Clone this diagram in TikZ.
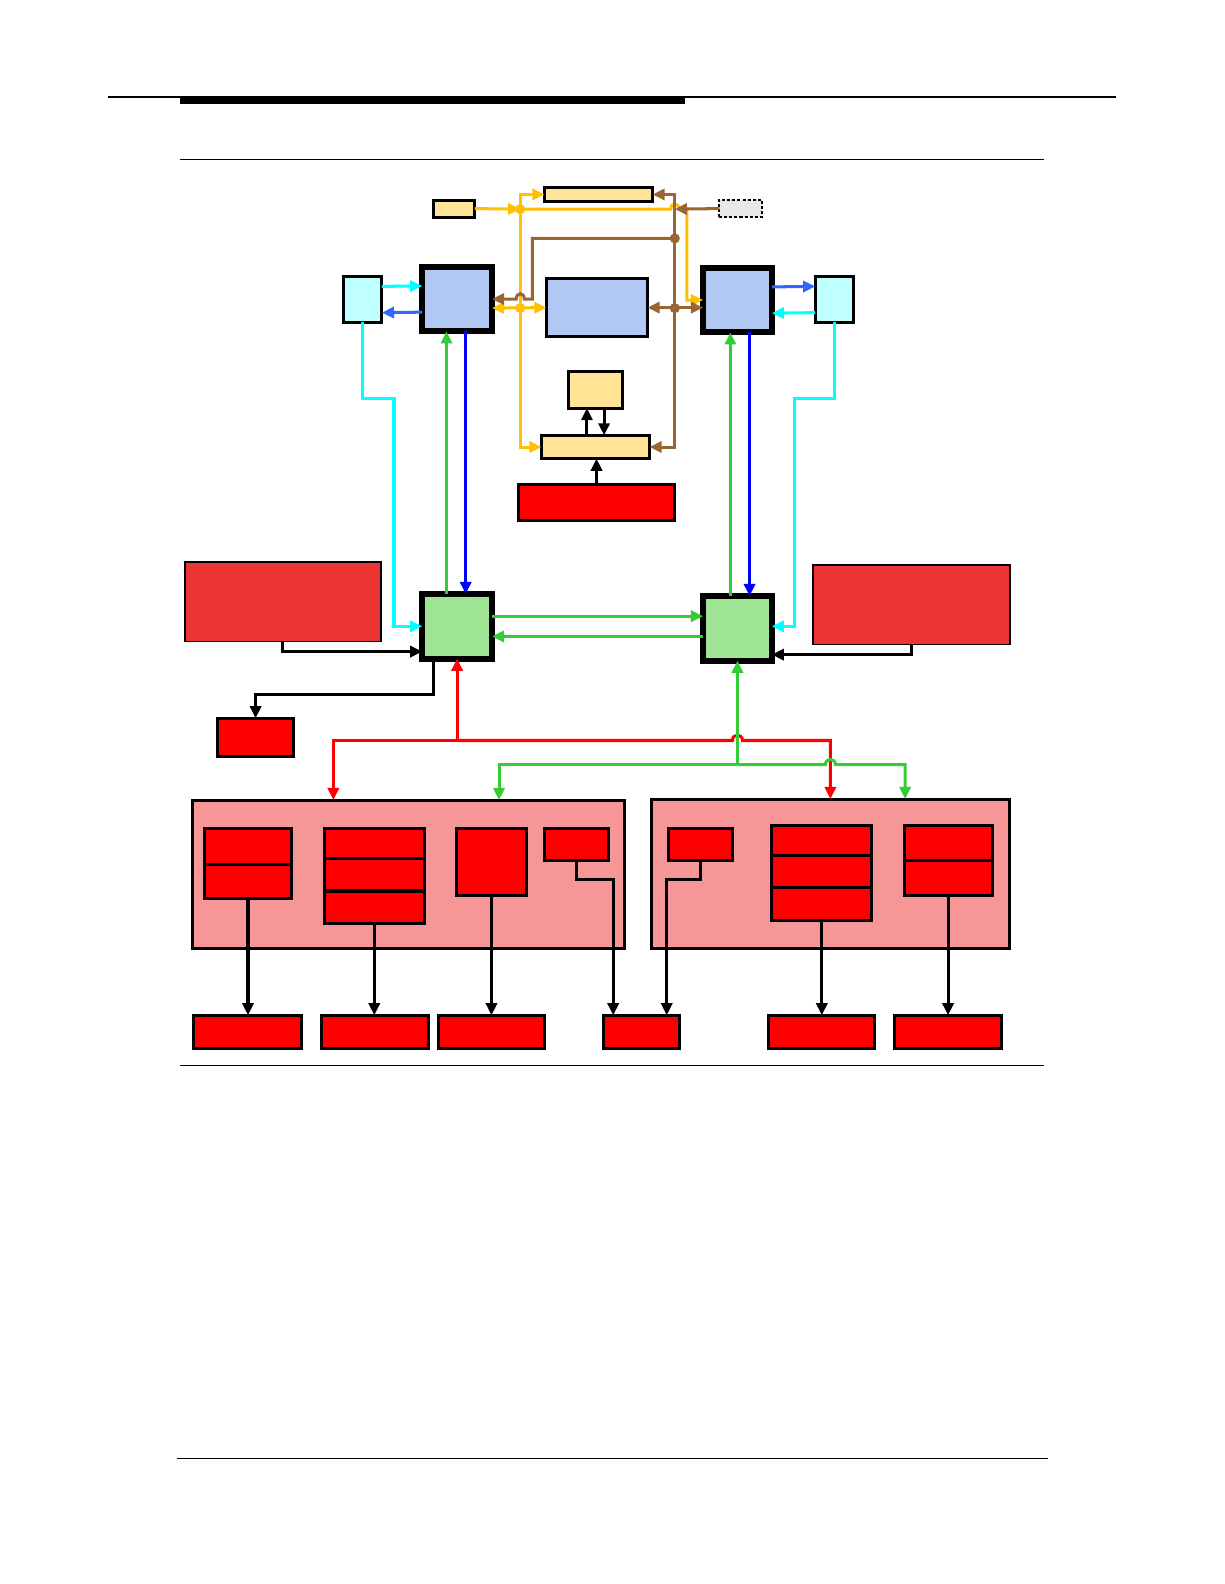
\documentclass[tikz,border=0pt]{standalone}
\usepackage{tikz}
\usepackage{xcolor}
\usetikzlibrary{arrows.meta}

\definecolor{busyel}{RGB}{255,192,0}
\definecolor{busbrn}{RGB}{153,102,51}
\definecolor{buscyn}{RGB}{0,255,255}
\definecolor{busroy}{RGB}{51,102,255}
\definecolor{busblu}{RGB}{0,0,255}
\definecolor{busgrn}{RGB}{51,204,51}
\definecolor{busred}{RGB}{255,0,0}
\definecolor{fillblu}{RGB}{176,200,242}
\definecolor{fillcyn}{RGB}{192,255,255}
\definecolor{fillgrn}{RGB}{160,228,150}
\definecolor{fillyel}{RGB}{255,228,150}
\definecolor{fillhot}{RGB}{236,52,52}
\definecolor{fillpnk}{RGB}{246,150,150}
\definecolor{fillgry}{RGB}{232,232,232}

\tikzset{
  box/.style={draw, line width=3pt, inner sep=0pt, outer sep=0pt},
  hub/.style={box, line width=6pt},
  redbox/.style={box, fill=red},
  wire/.style={line width=3pt},
}

\begin{document}
\begin{tikzpicture}[x=1pt, y=-1pt, >={Triangle[length=12pt,width=11pt]}]
  \useasboundingbox (0,0) rectangle (1212,1568);
  % page rules
  \draw[line width=1.5pt] (107,96) -- (1105,96);
  \fill (178,96) rectangle (678,103);
  \draw[line width=1.2pt] (178,158) -- (1033,158);
  \draw[line width=1.2pt] (178,1055) -- (1033,1055);
  \draw[line width=1.2pt] (175,1444) -- (1037,1444);

  % top boxes
  \node[box, fill=fillyel, minimum width=41, minimum height=17] (yin) at (449.5,206.5) {};
  \node[box, fill=fillyel, minimum width=107, minimum height=13] (ybar) at (592.5,192.5) {};
  \node[box, fill=fillgry, dotted, line width=1.8pt, minimum width=42, minimum height=17] (gry) at (733,206.5) {};
  \node[hub, fill=fillblu, minimum width=69, minimum height=64] (bl) at (452.5,296) {};
  \node[box, fill=fillblu, minimum width=100, minimum height=57] (bc) at (591,304.5) {};
  \node[hub, fill=fillblu, minimum width=68, minimum height=64] (br) at (730,297) {};
  \node[box, fill=fillcyn, minimum width=38, minimum height=45] (cl) at (359,296.5) {};
  \node[box, fill=fillcyn, minimum width=38, minimum height=45] (cr) at (826,296.5) {};
  \node[box, fill=fillyel, minimum width=53, minimum height=36] (ybox) at (589.5,386) {};
  \node[box, fill=fillyel, minimum width=107, minimum height=23] (ybar2) at (589.5,442.5) {};
  \node[redbox, minimum width=155, minimum height=35] (rbar) at (590.5,497.5) {};

  % middle boxes
  \node[box, line width=1.8pt, fill=fillhot, minimum width=194, minimum height=79] (hl) at (280,595.5) {};
  \node[box, line width=1.8pt, fill=fillhot, minimum width=195, minimum height=79] (hr) at (902.5,598.5) {};
  \node[hub, fill=fillgrn, minimum width=69, minimum height=64] (gl) at (452.5,620) {};
  \node[hub, fill=fillgrn, minimum width=68, minimum height=64] (gr) at (730,622) {};
  \node[redbox, minimum width=76, minimum height=38] (rsm) at (253,730) {};

  % lower groups
  \node[box, fill=fillpnk, minimum width=427, minimum height=147] (pl) at (404.5,865.5) {};
  \node[box, fill=fillpnk, minimum width=354, minimum height=148] (pr) at (822,865) {};
  \node[redbox, minimum width=87, minimum height=36] (la1) at (245.5,838) {};
  \node[redbox, minimum width=87, minimum height=33] (la2) at (245.5,872.5) {};
  \node[redbox, minimum width=99, minimum height=30] (lb1) at (370.5,835) {};
  \node[redbox, minimum width=99, minimum height=32] (lb2) at (370.5,866) {};
  \node[redbox, minimum width=99, minimum height=32] (lb3) at (370.5,898) {};
  \node[redbox, minimum width=69, minimum height=66] (lc) at (486.5,853) {};
  \node[redbox, minimum width=63, minimum height=32] (ld) at (570.5,836) {};
  \node[redbox, minimum width=63, minimum height=32] (ra) at (693.5,836) {};
  \node[redbox, minimum width=99, minimum height=30] (rb1) at (813.5,832) {};
  \node[redbox, minimum width=99, minimum height=32] (rb2) at (813.5,863) {};
  \node[redbox, minimum width=99, minimum height=32] (rb3) at (813.5,895) {};
  \node[redbox, minimum width=87, minimum height=35] (rc1) at (938.5,834.5) {};
  \node[redbox, minimum width=87, minimum height=34] (rc2) at (938.5,869) {};

  % outputs
  \node[redbox, minimum width=106, minimum height=33] (out1) at (245,1021.5) {};
  \node[redbox, minimum width=106, minimum height=33] (out2) at (371,1021.5) {};
  \node[redbox, minimum width=105, minimum height=33] (out3) at (486.5,1021.5) {};
  \node[redbox, minimum width=76, minimum height=33] (out4) at (635,1021.5) {};
  \node[redbox, minimum width=105, minimum height=33] (out5) at (813.5,1021.5) {};
  \node[redbox, minimum width=106, minimum height=33] (out6) at (938,1021.5) {};

  % yellow bus
  \coordinate (yj1) at (515,207);
  \coordinate (yj2) at (515,305);
  \draw[wire, busyel, ->] (yin.east) -- (yj1);
  \draw[wire, busyel, ->] (yj1) |- (ybar.west);
  \draw[wire, busyel, ->] (yj1) -- (664,207) .. controls (664,200) and (672,200) .. (672,207)
    -- (680,207) |- (br.west);
  \draw[wire, busyel, ->] (yj1) |- (ybar2.west);
  \draw[wire, busyel, <->] (bl.east |- yj2) -- (bc.west);
  \fill[busyel] (yj1) circle (5) (yj2) circle (5);

  % brown bus
  \coordinate (bj1) at (668,236);
  \coordinate (bj2) at (668,305);
  \coordinate (bjg) at (668,207);
  \draw[wire, busbrn, ->] (gry.west) -- (bjg);
  \draw[wire, busbrn, ->] (bj1) |- (ybar.east);
  \draw[wire, busbrn, ->] (bj1) |- (ybar2.east);
  \draw[wire, busbrn, ->] (bj1) -- (527,236) -- (527,296) -- (519,296)
    .. controls (519,289) and (511,289) .. (511,296) -- (bl.east);
  \draw[wire, busbrn, <->] (bc.east) -- (br.west |- bc.east);
  \fill[busbrn] (bj1) circle (5) (bj2) circle (5);

  % local links
  \draw[wire, ->] ([xshift=-8.5pt]ybar2.north) -- ([xshift=-8.5pt]ybox.south);
  \draw[wire, ->] ([xshift=8.5pt]ybox.south) -- ([xshift=8.5pt]ybar2.north);
  \draw[wire, ->] (rbar.north) -- (rbar.north |- ybar2.south);

  % cyan side links
  \draw[wire, buscyn, ->] ([yshift=13pt]cl.east) -- ([yshift=13pt]bl.west);
  \draw[wire, busroy, ->] ([yshift=-13pt]bl.west) -- ([yshift=-13pt]cl.east);
  \draw[wire, buscyn, ->] (cl.south) -- ++(0,75) -| ([xshift=-28pt]gl.west) -- (gl.west);
  \draw[wire, busroy, ->] ([yshift=13pt]br.east) -- ([yshift=13pt]cr.west);
  \draw[wire, buscyn, ->] ([yshift=-13pt]cr.west) -- ([yshift=-13pt]br.east);
  \draw[wire, buscyn, ->] (cr.south) -- ++(0,75) -| ([xshift=22pt,yshift=2pt]gr.east) -- ([yshift=2pt]gr.east);

  % vertical pairs
  \draw[wire, busgrn, ->] ([xshift=-10.5pt]gl.north) -- ([xshift=-10.5pt]bl.south);
  \draw[wire, busblu, ->] ([xshift=8.5pt]bl.south) -- ([xshift=8.5pt]gl.north);
  \draw[wire, busgrn, ->] ([xshift=-7pt]gr.north) -- ([xshift=-7pt]br.south);
  \draw[wire, busblu, ->] ([xshift=12pt]br.south) -- ([xshift=12pt]gr.north);

  % between the hubs
  \draw[wire, busgrn, ->] ([yshift=10pt]gl.east) -- ([yshift=12pt]gr.west);
  \draw[wire, busgrn, ->] ([yshift=-8pt]gr.west) -- ([yshift=-10pt]gl.east);
  \draw[wire, ->] (hl.south) |- ([yshift=-25pt]gl.west);
  \draw[wire, ->] (hr.south) |- ([yshift=-26pt]gr.east);
  \draw[wire, ->] ([xshift=-23.5pt]gl.south) -- ++(0,35) -| (rsm.north);

  % red and green feeds
  \coordinate (rj) at (452.5,733);
  \coordinate (gj) at (730,757);
  \draw[wire, busred, ->] (rj) -- (gl.south);
  \draw[wire, busred, ->] (rj) -| ([xshift=-74.5pt]pl.north);
  \draw[wire, busred, ->] (rj) -- (725,733) .. controls (725,726) and (735,726) .. (735,733)
    -| (pr.north);
  \draw[wire, busgrn, ->] (gj) -- (gr.south);
  \draw[wire, busgrn, ->] (gj) -| ([xshift=89.5pt]pl.north);
  \draw[wire, busgrn, ->] (gj) -- (817,757) .. controls (817,750) and (827,750) .. (827,757)
    -| ([xshift=74pt]pr.north);

  % outputs
  \draw[wire, ->] (la2.south) -- (la2.south |- out1.north);
  \draw[wire, ->] (lb3.south) -- (lb3.south |- out2.north);
  \draw[wire, ->] (lc.south) -- (lc.south |- out3.north);
  \draw[wire, ->] (ld.south) -- ++(0,19) -| ([xshift=-28pt]out4.north);
  \draw[wire, ->] (ra.south) -- ++(0,19) -| ([xshift=25pt]out4.north);
  \draw[wire, ->] (rb3.south) -- (rb3.south |- out5.north);
  \draw[wire, ->] (rc2.south) -- (rc2.south |- out6.north);
\end{tikzpicture}
\end{document}
